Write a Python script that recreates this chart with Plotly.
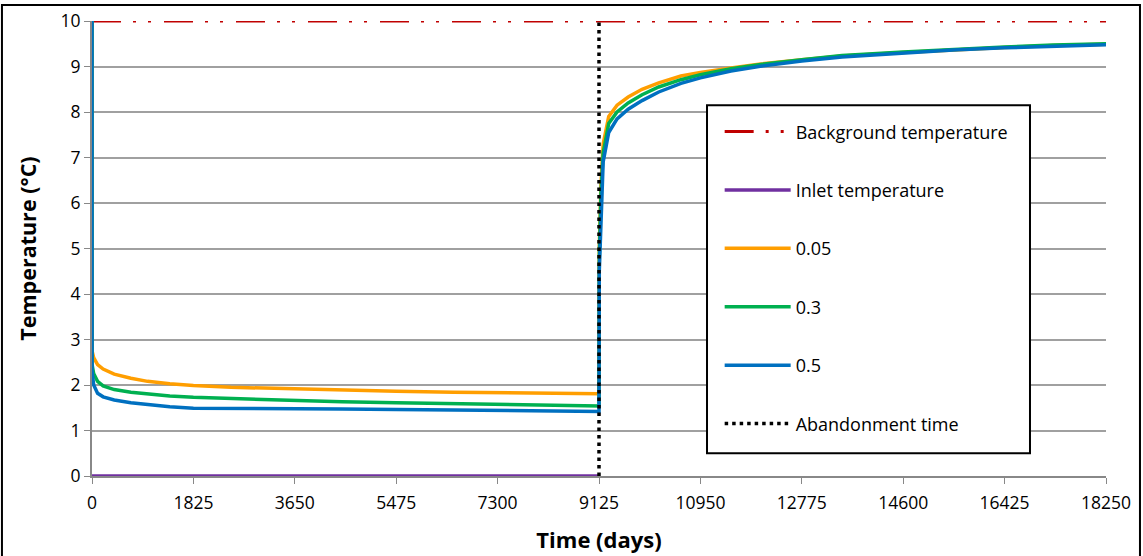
import plotly.graph_objects as go

# ---- data ----
t = [0, 1, 30, 100, 200, 400, 700, 1000, 1400, 1825, 2500, 3650, 4500, 5475, 6500,
     7300, 8200, 9125, 9130, 9160, 9200, 9300, 9450, 9650, 9900, 10200, 10600, 10950,
     11500, 12000, 12775, 13500, 14600, 15500, 16425, 17300, 18250]

t_005 = [10, 2.75, 2.6, 2.45, 2.35, 2.24, 2.15, 2.08, 2.03, 1.99, 1.95, 1.91, 1.88, 1.86, 1.84,
         1.83, 1.82, 1.81, 5.0, 6.4, 7.3, 7.9, 8.15, 8.33, 8.5, 8.64, 8.79, 8.87,
         8.97, 9.05, 9.15, 9.23, 9.31, 9.37, 9.42, 9.46, 9.49]
t_03 = [10, 2.45, 2.25, 2.08, 1.98, 1.9, 1.84, 1.8, 1.76, 1.73, 1.7, 1.66, 1.63, 1.61, 1.59,
        1.57, 1.56, 1.54, 4.8, 6.2, 7.1, 7.75, 8.0, 8.2, 8.38, 8.55, 8.71, 8.82,
        8.95, 9.04, 9.15, 9.24, 9.32, 9.38, 9.43, 9.47, 9.5]
t_05 = [10, 2.3, 2.0, 1.82, 1.74, 1.67, 1.61, 1.57, 1.52, 1.49, 1.48, 1.48, 1.47, 1.46, 1.45,
        1.44, 1.43, 1.42, 4.5, 5.8, 6.9, 7.55, 7.85, 8.06, 8.25, 8.44, 8.63, 8.75,
        8.9, 9.0, 9.12, 9.21, 9.3, 9.36, 9.41, 9.45, 9.48]

background_t = [0, 18250]
background_v = [10, 10]
inlet_t = [0, 9125]
inlet_v = [0, 0]
abandon_t = [9125, 9125]
abandon_v = [0, 10]

x_ticks = [0, 1825, 3650, 5475, 7300, 9125, 10950, 12775, 14600, 16425, 18250]

FONT = "Open Sans"
LW = 3.5

fig = go.Figure()
fig.add_trace(go.Scatter(x=background_t, y=background_v, mode="lines", name="Background temperature",
                         legendgroup="a", cliponaxis=False,
                         line=dict(color="#C00000", width=3, dash="29px,12px,3px,12px,3px,13px")))
fig.add_trace(go.Scatter(x=inlet_t, y=inlet_v, mode="lines", name="Inlet temperature", legendgroup="b",
                         cliponaxis=False,
                         line=dict(color="#7030A0", width=LW)))
fig.add_trace(go.Scatter(x=t, y=t_005, mode="lines", name="0.05", legendgroup="c", cliponaxis=False,
                         line=dict(color="#FF9E00", width=LW)))
fig.add_trace(go.Scatter(x=t, y=t_03, mode="lines", name="0.3", legendgroup="d", cliponaxis=False,
                         line=dict(color="#00B050", width=LW)))
fig.add_trace(go.Scatter(x=t, y=t_05, mode="lines", name="0.5", legendgroup="e", cliponaxis=False,
                         line=dict(color="#0070C0", width=LW)))
fig.add_trace(go.Scatter(x=abandon_t, y=abandon_v, mode="lines", name="Abandonment time", legendgroup="f",
                         cliponaxis=False,
                         line=dict(color="black", width=3.5, dash="3.5px,4px")))

# legend box (white, hides gridlines)
fig.add_shape(type="rect", xref="x", yref="y", x0=11069, x1=16882, y0=0.5, y1=8.15,
              line=dict(color="black", width=2), fillcolor="white", layer="between")
# outer border
fig.add_shape(type="rect", xref="paper", yref="paper", x0=-0.0888, x1=1.0335, y0=-0.2, y1=1.0352,
              line=dict(color="black", width=2), fillcolor="rgba(0,0,0,0)", layer="above")

fig.update_layout(
    width=1143, height=556,
    margin=dict(l=92, r=37, t=21, b=80),
    paper_bgcolor="white", plot_bgcolor="white",
    font=dict(family=FONT, size=17, color="black"),
    showlegend=True,
    legend=dict(x=0.619, y=0.797, xanchor="left", yanchor="top",
                bgcolor="rgba(0,0,0,0)", borderwidth=0,
                tracegroupgap=32, itemwidth=66,
                font=dict(family=FONT, size=18, color="black")),
    xaxis=dict(range=[0, 18250], tickvals=x_ticks, ticktext=[str(v) for v in x_ticks],
               automargin=False, layer="below traces",
               showgrid=False, zeroline=False, showline=True, linecolor="#888888", linewidth=2,
               ticks="outside", ticklen=6, tickcolor="#888888", tickwidth=1,
               ticklabelstandoff=4,
               tickfont=dict(family=FONT, size=17.5, color="black"),
               title=dict(text="<b>Time (days)</b>", font=dict(family=FONT, size=22, color="black"),
                          standoff=20)),
    yaxis=dict(range=[0, 10], dtick=1, tick0=0,
               automargin=False, layer="below traces",
               showgrid=True, gridcolor="#A0A0A0", gridwidth=2,
               zeroline=False, showline=True, linecolor="#888888", linewidth=2,
               ticks="outside", ticklen=6, tickcolor="#888888", tickwidth=1,
               tickfont=dict(family=FONT, size=17.5, color="black"),
               title=dict(text="<b>Temperature (°C)</b>", font=dict(family=FONT, size=21.5, color="black"),
                          standoff=18)),
)

fig.write_html("out.html", config={"displayModeBar": False},
               post_script="document.body.style.margin='0px';document.body.style.overflow='hidden';")
